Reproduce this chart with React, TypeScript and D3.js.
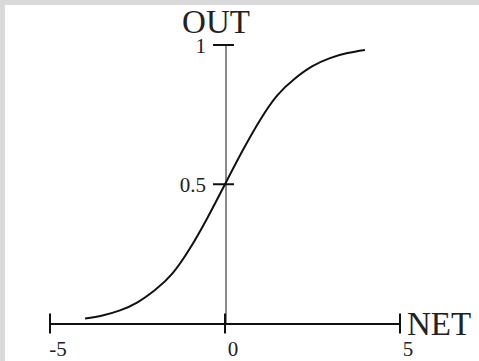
import React from "react";
import * as d3 from "d3";

// Sampled points of the logistic activation curve (NET -> OUT)
const netValues = [-4, -3.5, -3, -2.5, -2, -1.5, -1, -0.5, 0, 0.5, 1, 1.5, 2, 2.5, 3, 3.5, 4];
const outValues = [0.018, 0.029, 0.047, 0.076, 0.12, 0.18, 0.27, 0.38, 0.5, 0.62, 0.73, 0.82, 0.88, 0.924, 0.953, 0.971, 0.982];

const xTicks = [-5, 0, 5];
const xTickLabels = ["-5", "0", "5"];
const yTicks = [0.5, 1];
const yTickLabels = ["0.5", "1"];

const W = 479;
const H = 361;
const FONT = "'Liberation Serif', 'Times New Roman', serif";

export default function App() {
  const x = d3.scaleLinear().domain([-5, 5]).range([50, 400]);
  const y = d3.scaleLinear().domain([0, 1]).range([323.5, 45]);

  const pts: [number, number][] = netValues.map((n, i) => [n, outValues[i]]);
  const line = d3
    .line<[number, number]>()
    .x((d) => x(d[0]))
    .y((d) => y(d[1]))
    .curve(d3.curveNatural);

  const x0 = x(0);
  const yBase = y(0);

  return (
    <svg
      width={W}
      height={H}
      style={{ position: "absolute", left: 0, top: 0, background: "#fff" }}
    >
      {/* frame */}
      <rect x={0} y={0} width={W} height={5} fill="#d9d9d9" />
      <rect x={0} y={0} width={5} height={H} fill="#d9d9d9" />

      {/* vertical OUT axis */}
      <line x1={x0 + 1} x2={x0 + 1} y1={y(1)} y2={yBase} stroke="#8a8a8a" strokeWidth={2} />
      {yTicks.map((t) => (
        <line key={t} x1={x0 - 12} x2={x0 + 9} y1={y(t)} y2={y(t)} stroke="#111" strokeWidth={2} />
      ))}
      {yTicks.map((t, i) => (
        <text
          key={"yl" + t}
          x={x0 - 19}
          y={y(t) + 8}
          textAnchor="end"
          fontFamily={FONT}
          fontSize={21}
          fill="#222"
        >
          {yTickLabels[i]}
        </text>
      ))}
      <text x={216} y={33} textAnchor="middle" fontFamily={FONT} fontSize={33} fill="#222">
        OUT
      </text>

      {/* horizontal NET axis */}
      <line x1={x(-5)} x2={x(5)} y1={yBase + 0.5} y2={yBase + 0.5} stroke="#111" strokeWidth={2} />
      {xTicks.map((t) => (
        <line key={t} x1={x(t)} x2={x(t)} y1={yBase - 10} y2={yBase + 10} stroke="#111" strokeWidth={2} />
      ))}
      {xTicks.map((t, i) => (
        <text
          key={"xl" + t}
          x={x(t) + 8}
          y={356}
          textAnchor="middle"
          fontFamily={FONT}
          fontSize={21}
          fill="#222"
        >
          {xTickLabels[i]}
        </text>
      ))}
      <text x={407} y={335} textAnchor="start" fontFamily={FONT} fontSize={33} fill="#222">
        NET
      </text>

      {/* activation curve */}
      <path d={line(pts) || ""} fill="none" stroke="#111" strokeWidth={2} />
    </svg>
  );
}
